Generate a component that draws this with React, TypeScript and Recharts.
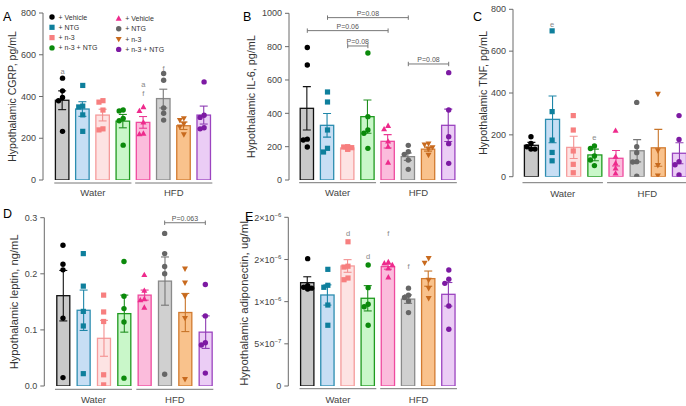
import React from "react";
import { ComposedChart, Bar, Scatter, XAxis, YAxis, ReferenceLine, ReferenceDot, Legend } from "recharts";

const GROUPS = ["W-Veh", "W-NTG", "W-n3", "W-n3NTG", "H-Veh", "H-NTG", "H-n3", "H-n3NTG"];
const LEGEND_LABELS = ["+ Vehicle", "+ NTG", "+ n-3", "+ n-3 + NTG"];
const SITES = ["Water", "HFD"];

// A: CGRP, pg/mL
const cgrpMean = [382, 340, 311, 282, 276, 390, 260, 311];
const cgrpSem = [45, 35, 28, 32, 28, 45, 18, 43];
const cgrpPoints = [
  [488, 427, 395, 380, 233],
  [453, 354, 350, 312, 233],
  [380, 373, 335, 245, 240],
  [335, 331, 295, 284, 167],
  [350, 331, 276, 223, 220],
  [510, 478, 345, 320, 287],
  [295, 287, 268, 255, 218],
  [470, 310, 300, 250, 245],
];
const cgrpNotes = [
  { g: 0, t: "a", v: 520 },
  { g: 4, t: "a", v: 457 },
  { g: 4, t: "f", v: 414 },
  { g: 5, t: "f", v: 535 },
];

// B: IL-6, pg/mL
const il6Mean = [430, 328, 192, 380, 232, 140, 185, 328];
const il6Sem = [130, 71, 5, 100, 40, 22, 12, 97];
const il6Points = [
  [795, 690, 245, 240, 198],
  [528, 468, 300, 190, 168],
  [200, 198, 194, 186, 184],
  [762, 380, 300, 280, 190],
  [325, 305, 232, 200, 105],
  [208, 170, 154, 120, 64],
  [218, 212, 196, 186, 150],
  [644, 420, 260, 218, 100],
];
const il6Brackets = [
  { from: 1, to: 5, v: 974, t: "P=0.08" },
  { from: 0, to: 4, v: 896, t: "P=0.06" },
  { from: 2, to: 3, v: 804, t: "P=0.08" },
  { from: 5, to: 7, v: 696, t: "P=0.08" },
];

// C: TNF, pg/mL
const tnfMean = [150, 274, 140, 104, 88, 124, 138, 112];
const tnfSem = [14, 112, 53, 28, 37, 53, 88, 50];
const tnfPoints = [
  [191, 159, 143, 132, 132],
  [697, 311, 175, 116, 76],
  [292, 223, 123, 59, 19],
  [147, 135, 99, 80, 53],
  [220, 96, 64, 40, 16],
  [355, 143, 115, 72, 70, 2],
  [395, 125, 55, 5],
  [292, 178, 72, 57, 8],
];
const tnfNotes = [
  { g: 1, t: "e", v: 728 },
  { g: 3, t: "e", v: 186 },
];

// D: leptin, ng/mL
const leptinMean = [0.161, 0.135, 0.085, 0.129, 0.162, 0.187, 0.131, 0.096];
const leptinSem = [0.045, 0.036, 0.032, 0.033, 0.009, 0.043, 0.034, 0.029];
const leptinPoints = [
  [0.251, 0.217, 0.207, 0.121, 0.015],
  [0.236, 0.178, 0.133, 0.107, 0.022],
  [0.162, 0.132, 0.115, 0.02, 0.002],
  [0.222, 0.16, 0.138, 0.114, 0.014],
  [0.198, 0.17, 0.155, 0.153, 0.14],
  [0.272, 0.236, 0.213, 0.2, 0.021],
  [0.209, 0.184, 0.16, 0.121, 0.012],
  [0.181, 0.125, 0.077, 0.073, 0.023],
];
const leptinBrackets = [{ from: 5, to: 7, v: 0.291, t: "P=0.063" }];

// E: adiponectin, ug/mL
const adipoMean = [1.225e-6, 1.079e-6, 1.423e-6, 1.04e-6, 1.415e-6, 1.03e-6, 1.273e-6, 1.087e-6];
const adipoSem = [0.07e-6, 0.12e-6, 0.075e-6, 0.15e-6, 0.03e-6, 0.05e-6, 0.09e-6, 0.14e-6];
const adipoPoints = [
  [1.51e-6, 1.19e-6, 1.17e-6, 1.16e-6, 1.15e-6],
  [1.383e-6, 1.194e-6, 1.17e-6, 0.96e-6, 0.72e-6],
  [1.71e-6, 1.42e-6, 1.41e-6, 1.28e-6, 1.26e-6],
  [1.435e-6, 1.166e-6, 0.97e-6, 0.94e-6, 0.72e-6],
  [1.47e-6, 1.455e-6, 1.435e-6, 1.395e-6, 1.29e-6],
  [1.16e-6, 1.075e-6, 1.05e-6, 1.008e-6, 0.87e-6],
  [1.514e-6, 1.46e-6, 1.257e-6, 1.158e-6, 1.04e-6],
  [1.375e-6, 1.265e-6, 1.217e-6, 0.949e-6, 0.672e-6],
];
const adipoNotes = [
  { g: 2, t: "d", v: 1.81e-6 },
  { g: 3, t: "d", v: 1.54e-6 },
  { g: 4, t: "f", v: 1.81e-6 },
  { g: 5, t: "f", v: 1.42e-6 },
];

const STYLE = [
  { marker: "circle", color: "#000000", fill: "#c9c9c9", stroke: "#111111", err: "#111111" },
  { marker: "square", color: "#0e7f9c", fill: "#c7def4", stroke: "#2c8db0", err: "#1e86a8" },
  { marker: "square", color: "#f77f7f", fill: "#fde3e3", stroke: "#f59b9b", err: "#f39090" },
  { marker: "circle", color: "#0b8a0b", fill: "#c9f7c9", stroke: "#1f9a1f", err: "#1f8f1f" },
  { marker: "up", color: "#ee2a8c", fill: "#fbbcdc", stroke: "#ef4a9e", err: "#ea3a94" },
  { marker: "circle", color: "#666666", fill: "#d0d0d0", stroke: "#8a8a8a", err: "#777777" },
  { marker: "down", color: "#c86a1e", fill: "#f9c28c", stroke: "#d27b30", err: "#c87428" },
  { marker: "circle", color: "#7d1aa3", fill: "#ebcdf5", stroke: "#9b44c0", err: "#8e3cb3" },
];

const FONT = "'Liberation Sans', Arial, Helvetica, sans-serif";
const TICK_FILL = "#444";

function Marker({ type, x, y, color }: any) {
  if (type === "circle") return <circle cx={x} cy={y} r={2.7} fill={color} />;
  if (type === "square") return <rect x={x - 2.6} y={y - 2.6} width={5.2} height={5.2} fill={color} />;
  if (type === "up")
    return <polygon points={`${x},${y - 3.2} ${x + 3},${y + 2.2} ${x - 3},${y + 2.2}`} fill={color} />;
  return <polygon points={`${x},${y + 3.2} ${x + 3},${y - 2.2} ${x - 3},${y - 2.2}`} fill={color} />;
}

// simple beeswarm: spread points that sit close together in value
function jitter(vals: number[], span: number) {
  const thr = span * 0.03;
  const cands = [0, -4, 4, -7, 7];
  const placed: { v: number; o: number }[] = [];
  return vals.map((v) => {
    const near = placed.filter((p) => Math.abs(p.v - v) < thr);
    const o = cands.find((c) => near.every((p) => Math.abs(p.o - c) >= 4)) ?? 0;
    placed.push({ v, o });
    return o;
  });
}

const BarShape = (props: any) => {
  const { x, y, width, height, payload, index } = props;
  const st = STYLE[index];
  const k = payload.mean ? height / payload.mean : 0;
  const e = payload.sem * k;
  const cx = x + width / 2;
  return (
    <g>
      <rect x={x} y={y} width={width} height={height} fill={st.fill} stroke={st.stroke} strokeWidth={1.3} />
      <line x1={cx} x2={cx} y1={y - e} y2={y + e} stroke={st.err} strokeWidth={1.1} />
      <line x1={cx - 4} x2={cx + 4} y1={y - e} y2={y - e} stroke={st.err} strokeWidth={1.1} />
      <line x1={cx - 4} x2={cx + 4} y1={y + e} y2={y + e} stroke={st.err} strokeWidth={1.1} />
    </g>
  );
};

const LegendBox = () => (
  <svg width={140} height={46} style={{ display: "block" }}>
    {GROUPS.map((g, i) => {
      const col = Math.floor(i / 4);
      const row = i % 4;
      const mx = col ? 70.7 : 4;
      const my = 4 + row * 10.3 + col * 1.5;
      return (
        <g key={g}>
          <Marker type={STYLE[i].marker} x={mx} y={my} color={STYLE[i].color} />
          <text x={mx + 6.5} y={my + 2.5} fontSize={7} fill="#333" fontFamily={FONT}>
            {LEGEND_LABELS[row]}
          </text>
        </g>
      );
    })}
  </svg>
);

const SciTick = (props: any) => {
  const { x, y, payload } = props;
  const v = payload.value;
  if (v === 0)
    return (
      <text x={x} y={y} dy={3.2} textAnchor="end" fontSize={9} fill={TICK_FILL} fontFamily={FONT}>
        0
      </text>
    );
  const exp = Math.floor(Math.log10(v) + 1e-9);
  const m = Math.round(v / Math.pow(10, exp) + 1e-9);
  return (
    <text x={x} y={y} dy={3.2} textAnchor="end" fontSize={9} fill={TICK_FILL} fontFamily={FONT}>
      <tspan>{`${m}×10`}</tspan>
      <tspan dy={-4} fontSize={6}>{`−${-exp}`}</tspan>
    </text>
  );
};

function Panel({ cfg }: any) {
  const span = cfg.domain[1] - cfg.domain[0];
  const rows = GROUPS.map((g, i) => {
    const row: any = { g, mean: cfg.mean[i], sem: cfg.sem[i] };
    const js = jitter(cfg.points[i], span);
    cfg.points[i].forEach((v: number, k: number) => {
      row[`p${k}`] = v;
      row[`j${k}`] = js[k];
    });
    return row;
  });
  const halfBar = cfg.barSize / 2;

  const GroupTick = (p: any) => {
    const i = p.index ?? p.payload?.index;
    if (i !== 0 && i !== 4) return <g />;
    const band = p.payload?.offset ? p.payload.offset * 2 : cfg.band;
    const x0 = p.x - halfBar - 1.5;
    const x1 = p.x + 3 * band + halfBar + 1.5;
    return (
      <g>
        <line x1={x0} x2={x1} y1={p.y + cfg.lineDy} y2={p.y + cfg.lineDy} stroke="#777" strokeWidth={1} />
        <text
          x={(x0 + x1) / 2}
          y={p.y + cfg.textDy}
          textAnchor="middle"
          fontSize={9.5}
          fill={TICK_FILL}
          fontFamily={FONT}
        >
          {SITES[i / 4]}
        </text>
      </g>
    );
  };

  return (
    <div style={{ position: "absolute", left: cfg.left, top: cfg.top }}>
      <ComposedChart
        width={cfg.width}
        height={cfg.height}
        data={rows}
        margin={{ top: cfg.mTop, right: cfg.mRight, bottom: 0, left: 0 }}
        style={{ fontFamily: FONT }}
      >
        <XAxis
          dataKey="g"
          type="category"
          padding={{ left: cfg.padL, right: 0 }}
          axisLine={false}
          tickLine={false}
          tickSize={0}
          tickMargin={0}
          height={cfg.xH}
          interval={0}
          tick={GroupTick}
        />
        <YAxis
          type="number"
          domain={cfg.domain}
          ticks={cfg.ticks}
          allowDataOverflow
          width={cfg.axisW}
          stroke="#6a6a6a"
          tickSize={4}
          tickMargin={3}
          tick={cfg.sci ? SciTick : { fontSize: 9, fill: TICK_FILL, fontFamily: FONT }}
          tickFormatter={cfg.fmt}
          label={{
            value: cfg.label,
            angle: -90,
            position: "insideLeft",
            offset: cfg.labelX,
            style: { textAnchor: "middle", fontSize: cfg.labelSize, fill: "#333", fontFamily: FONT },
          }}
        />
        <Bar dataKey="mean" barSize={cfg.barSize} shape={BarShape} isAnimationActive={false} />
        {[0, 1, 2, 3, 4, 5].map((k) => (
          <Scatter
            key={k}
            dataKey={`p${k}`}
            isAnimationActive={false}
            shape={(p: any) => {
              const v = p.payload?.[`p${k}`];
              if (v == null || !isFinite(p.cy)) return <g />;
              const st = STYLE[GROUPS.indexOf(p.payload.g)];
              return <Marker type={st.marker} x={p.cx + p.payload[`j${k}`]} y={p.cy} color={st.color} />;
            }}
          />
        ))}
        {(cfg.notes || []).map((n: any, i: number) => (
          <ReferenceDot
            key={`n${i}`}
            x={GROUPS[n.g]}
            y={n.v}
            r={0}
            ifOverflow="visible"
            shape={(p: any) => (
              <text x={p.cx} y={p.cy} dy={2.5} textAnchor="middle" fontSize={7.5} fill="#888" fontFamily={FONT}>
                {n.t}
              </text>
            )}
          />
        ))}
        {(cfg.brackets || []).map((b: any, i: number) => (
          <ReferenceLine
            key={`b${i}`}
            segment={[
              { x: GROUPS[b.from], y: b.v },
              { x: GROUPS[b.to], y: b.v },
            ]}
            ifOverflow="visible"
            stroke="#777"
            shape={(p: any) => (
              <g>
                <line x1={p.x1} x2={p.x2} y1={p.y1} y2={p.y1} stroke="#777" strokeWidth={1} />
                <line x1={p.x1} x2={p.x1} y1={p.y1 - 2.2} y2={p.y1 + 2.2} stroke="#777" strokeWidth={1} />
                <line x1={p.x2} x2={p.x2} y1={p.y1 - 2.2} y2={p.y1 + 2.2} stroke="#777" strokeWidth={1} />
                <text
                  x={(p.x1 + p.x2) / 2}
                  y={p.y1 - 2}
                  textAnchor="middle"
                  fontSize={7}
                  fill="#555555"
                  stroke="none"
                  fontFamily={FONT}
                >
                  {b.t}
                </text>
              </g>
            )}
          />
        ))}
        {cfg.legend && (
          <Legend
            layout="vertical"
            align="center"
            verticalAlign="middle"
            content={() => <LegendBox />}
            wrapperStyle={{ left: 48.3, top: 12.7, width: 140, height: 46 }}
          />
        )}
      </ComposedChart>
    </div>
  );
}

const PANELS = [
  {
    key: "A", left: 0, top: 0, width: 230, height: 200, mTop: 13, mRight: 15.8, xH: 20, axisW: 43, padL: 9.4,
    barSize: 13.5, band: 20.2, domain: [0, 800], ticks: [0, 200, 400, 600, 800], label: "Hypothalamic CGRP, pg/mL",
    labelX: 12.5, labelSize: 10.5, lineDy: 3, textDy: 16, mean: cgrpMean, sem: cgrpSem, points: cgrpPoints,
    notes: cgrpNotes, legend: true,
  },
  {
    key: "B", left: 230, top: 0, width: 230, height: 200, mTop: 13.3, mRight: 1.2, xH: 20, axisW: 59, padL: 8.2,
    barSize: 13.3, band: 20.2, domain: [0, 1000], ticks: [0, 200, 400, 600, 800, 1000],
    label: "Hypothalamic IL-6, pg/mL", labelX: 21.5, labelSize: 10.8, lineDy: 2.7, textDy: 16, mean: il6Mean,
    sem: il6Sem, points: il6Points, brackets: il6Brackets,
  },
  {
    key: "C", left: 460, top: 0, width: 230, height: 200, mTop: 9.3, mRight: 0.4, xH: 23.3, axisW: 53, padL: 7.4,
    barSize: 14, band: 21.1, domain: [0, 800], ticks: [0, 200, 400, 600, 800], label: "Hypothalamic TNF, pg/mL",
    labelX: 23.5, labelSize: 10.8, lineDy: 6, textDy: 20, mean: tnfMean, sem: tnfSem, points: tnfPoints,
    notes: tnfNotes,
  },
  {
    key: "D", left: 0, top: 200, width: 230, height: 206, mTop: 17.7, mRight: 14.5, xH: 20, axisW: 44.3, padL: 8.5,
    barSize: 13, band: 20.3, domain: [0, 0.3], ticks: [0, 0.1, 0.2, 0.3], fmt: (v: number) => v.toFixed(1),
    label: "Hypothalamic leptin, ng/mL", labelX: 14, labelSize: 11.2, lineDy: 3.3, textDy: 16.5, mean: leptinMean,
    sem: leptinSem, points: leptinPoints, brackets: leptinBrackets,
  },
  {
    key: "E", left: 230, top: 200, width: 230, height: 206, mTop: 17.3, mRight: 1.1, xH: 20, axisW: 58.3, padL: 9.3,
    barSize: 13.3, band: 20.2, domain: [0, 2e-6], ticks: [0, 5e-7, 1e-6, 1.5e-6, 2e-6], sci: true,
    label: "Hypothalamic adiponectin, ug/mL", labelX: 14, labelSize: 11.4, lineDy: 2.7, textDy: 16.5,
    mean: adipoMean, sem: adipoSem, points: adipoPoints, notes: adipoNotes,
  },
];

const LETTERS = [
  { t: "A", x: 3, y: 21 },
  { t: "B", x: 243, y: 21 },
  { t: "C", x: 473, y: 21 },
  { t: "D", x: 3, y: 218 },
  { t: "E", x: 245, y: 221 },
];

export default function App() {
  return (
    <div
      style={{
        position: "absolute",
        left: 0,
        top: 0,
        width: 686,
        height: 406,
        overflow: "hidden",
        background: "#fff",
        fontFamily: FONT,
      }}
    >
      {PANELS.map((cfg) => (
        <Panel key={cfg.key} cfg={cfg} />
      ))}
      <svg width={686} height={406} style={{ position: "absolute", left: 0, top: 0, pointerEvents: "none" }}>
        {LETTERS.map((l) => (
          <text key={l.t} x={l.x} y={l.y} fontSize={12.5} fill="#000" fontFamily={FONT}>
            {l.t}
          </text>
        ))}
      </svg>
    </div>
  );
}
